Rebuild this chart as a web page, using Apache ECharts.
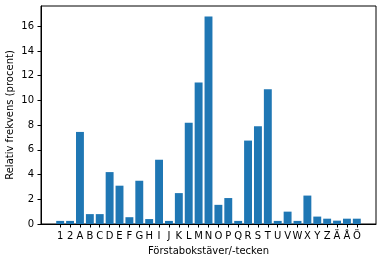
<!DOCTYPE html>
<html>
<head>
<meta charset="utf-8">
<script src="https://cdn.jsdelivr.net/npm/echarts@6/dist/echarts.min.js"></script>
<style>
html,body{margin:0;padding:0;background:#fff;}
#c{width:382px;height:262px;}
</style>
</head>
<body>
<div id="c"></div>
<script>
const categories = ['1','2','A','B','C','D','E','F','G','H','I','J','K','L','M','N','O','P','Q','R','S','T','U','V','W','X','Y','Z','Ä','Å','Ö'];
const values = [0.25,0.25,7.45,0.8,0.8,4.2,3.1,0.55,3.5,0.4,5.2,0.25,2.5,8.2,11.45,16.8,1.55,2.1,0.25,6.75,7.9,10.9,0.25,1.0,0.25,2.3,0.6,0.43,0.27,0.43,0.43];
const yTicks = [0,2,4,6,8,10,12,14,16];
const xTitle = 'Förstabokstäver/-tecken';
const yTitle = 'Relativ frekvens (procent)';

const n = categories.length;
const lo = -0.4, hi = n - 1 + 0.4;
const xm = 0.05 * (hi - lo);
const yMax = Math.max(...values) * 1.05;
const xIdx = categories.map((c, i) => i);
const font = {fontFamily: 'DejaVu Sans', fontSize: 10, color: '#000'};

const chart = echarts.init(document.getElementById('c'), null, {renderer: 'canvas'});
chart.setOption({
  animation: false,
  backgroundColor: '#fff',
  grid: {left: 41, right: 6, top: 6, bottom: 38, containLabel: false, outerBoundsMode: 'none', show: true, borderColor: '#000', borderWidth: 1, backgroundColor: 'transparent'},
  xAxis: {
    type: 'value', min: lo - xm, max: hi + xm,
    name: xTitle, nameLocation: 'middle', nameGap: 22, nameMoveOverlap: false,
    nameTextStyle: Object.assign({}, font),
    axisLine: {show: true, onZero: false, lineStyle: {color: '#000', width: 1}},
    axisTick: {show: true, length: 3.5, lineStyle: {color: '#000'}, customValues: xIdx},
    axisLabel: Object.assign({margin: 7.5, customValues: xIdx, formatter: v => categories[Math.round(v)]}, font),
    splitLine: {show: false}
  },
  yAxis: {
    type: 'value', min: 0, max: yMax,
    name: yTitle, nameLocation: 'middle', nameGap: 26, nameRotate: 90, nameMoveOverlap: false,
    nameTextStyle: Object.assign({}, font),
    axisLine: {show: true, onZero: false, lineStyle: {color: '#000', width: 1}},
    axisTick: {show: true, length: 3.5, lineStyle: {color: '#000'}, customValues: yTicks},
    axisLabel: Object.assign({margin: 7, customValues: yTicks, formatter: v => String(Math.round(v))}, font),
    splitLine: {show: false}
  },
  series: [{
    type: 'bar',
    data: values.map((v, i) => [i, v]),
    barWidth: '80%',
    itemStyle: {color: '#1f77b4'}
  }]
});
</script>
</body>
</html>
